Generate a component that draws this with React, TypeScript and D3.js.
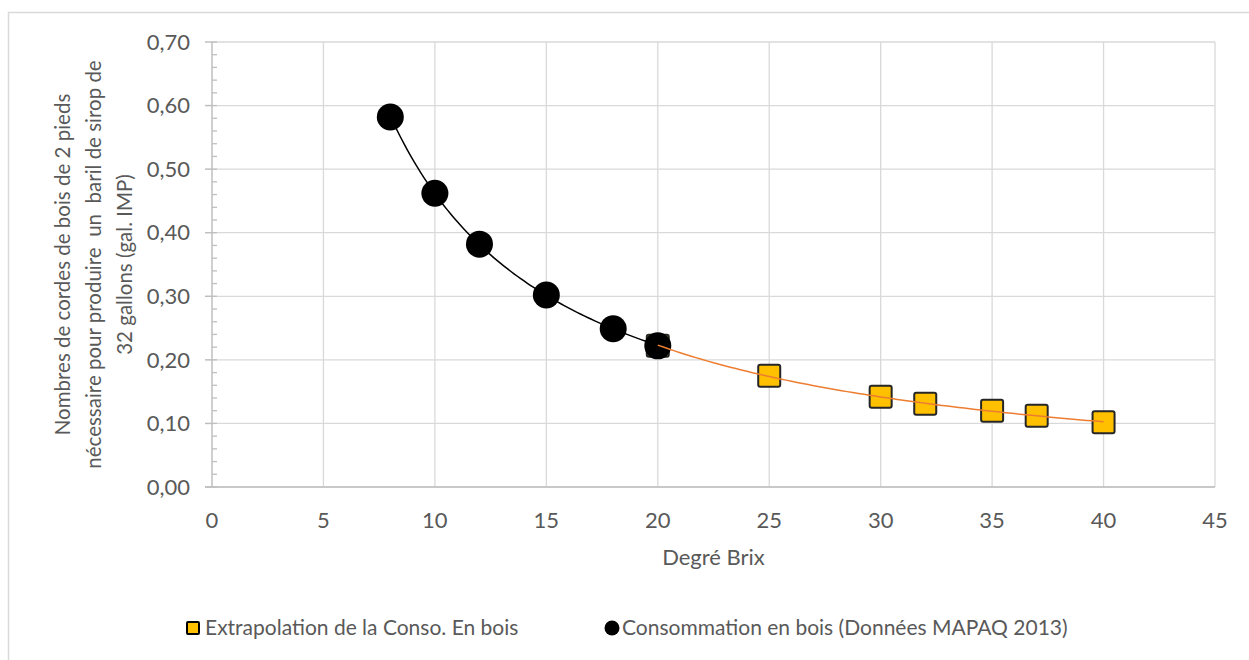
import * as d3 from 'd3';

// Données
const brixMesure = [8, 10, 12, 15, 18, 20];
const cordesMesure = [0.582, 0.462, 0.382, 0.302, 0.249, 0.222];

const brixExtrap = [20, 25, 30, 32, 35, 37, 40];
const cordesExtrap = [0.222, 0.175, 0.142, 0.131, 0.12, 0.112, 0.102];

const xTicks = [0, 5, 10, 15, 20, 25, 30, 35, 40, 45];
const yTicks = [0, 0.1, 0.2, 0.3, 0.4, 0.5, 0.6, 0.7];

const yTitleLines = [
  'Nombres de cordes de bois de 2 pieds',
  'nécessaire pour produire  un  baril de sirop de',
  '32 gallons (gal. IMP)',
];

const serieExtrap = 'Extrapolation de la Conso. En bois';
const serieMesure = 'Consommation en bois (Données MAPAQ 2013)';

const W = 1249;
const H = 660;
const margin = { top: 42, right: 34, bottom: 173, left: 212 };
const FONT = 'Lato, "Open Sans", sans-serif';
const TEXT = '#595959';
const FS = 22;

// courbe de tendance de type puissance (y = a * x^b), comme Excel
function powerTrend(xs: number[], ys: number[], n = 80) {
  const lx = xs.map(Math.log);
  const ly = ys.map(Math.log);
  const mx = d3.mean(lx)!;
  const my = d3.mean(ly)!;
  const b =
    d3.sum(lx, (v, i) => (v - mx) * (ly[i] - my)) / d3.sum(lx, (v) => (v - mx) ** 2);
  const a = Math.exp(my - b * mx);
  const [x0, x1] = d3.extent(xs) as [number, number];
  return d3.range(n + 1).map((i) => {
    const x = x0 + ((x1 - x0) * i) / n;
    return [x, a * Math.pow(x, b)] as [number, number];
  });
}

export default function App() {
  const x = d3.scaleLinear().domain([0, 45]).range([margin.left, W - margin.right]);
  const y = d3.scaleLinear().domain([0, 0.7]).range([H - margin.bottom, margin.top]);

  const line = d3
    .line<[number, number]>()
    .x((d) => x(d[0]))
    .y((d) => y(d[1]));

  const fmt = (v: number) => v.toFixed(2).replace('.', ',');
  const minorTicks = d3.range(0, 0.7001, 0.02);

  const plotMidY = (y(0) + y(0.7)) / 2;
  const plotMidX = (x(0) + x(45)) / 2;
  const sq = 22;

  return (
    <svg
      width={W}
      height={H}
      style={{ position: 'absolute', left: 0, top: 0, background: '#fff' }}
      fontFamily={FONT}
    >
      <rect x={8.5} y={12.5} width={W + 10} height={H + 10} fill="#fff" stroke="#d9d9d9" strokeWidth={1.5} />

      {/* grille */}
      {yTicks.map((t) => (
        <line key={'gy' + t} x1={x(0)} x2={x(45)} y1={y(t)} y2={y(t)} stroke="#d9d9d9" strokeWidth={1.3} />
      ))}
      {xTicks.slice(1).map((t) => (
        <line key={'gx' + t} x1={x(t)} x2={x(t)} y1={y(0)} y2={y(0.7)} stroke="#d9d9d9" strokeWidth={1.3} />
      ))}

      {/* axes */}
      <line x1={x(0) - 7} x2={x(45)} y1={y(0)} y2={y(0)} stroke="#bfbfbf" strokeWidth={1.5} />
      <line x1={x(0)} x2={x(0)} y1={y(0)} y2={y(0.7)} stroke="#bfbfbf" strokeWidth={1.5} />
      {yTicks.map((t) => (
        <line key={'ty' + t} x1={x(0) - 7} x2={x(0)} y1={y(t)} y2={y(t)} stroke="#bfbfbf" strokeWidth={1.5} />
      ))}
      {minorTicks.map((t) => (
        <line key={'my' + t} x1={x(0)} x2={x(0) + 5} y1={y(t)} y2={y(t)} stroke="#bfbfbf" strokeWidth={1.3} />
      ))}

      {yTicks.map((t) => (
        <text key={'ly' + t} x={x(0) - 22} y={y(t)} dy="0.35em" textAnchor="end" fontSize={FS} fill={TEXT}>
          {fmt(t)}
        </text>
      ))}
      {xTicks.map((t) => (
        <text key={'lx' + t} x={x(t)} y={y(0) + 41} textAnchor="middle" fontSize={FS} fill={TEXT}>
          {t}
        </text>
      ))}

      <text x={plotMidX} y={y(0) + 78} textAnchor="middle" fontSize={FS} fill={TEXT}>
        Degré Brix
      </text>

      <g transform={`translate(0,${plotMidY}) rotate(-90)`}>
        {yTitleLines.map((l, i) => (
          <text
            key={i}
            x={0}
            y={70 + i * 31}
            textAnchor="middle"
            fontSize={20.5}
            fill={TEXT}
            style={{ whiteSpace: 'pre' }}
          >
            {l}
          </text>
        ))}
      </g>

      {/* série extrapolée (carrés) */}
      {brixExtrap.map((b, i) => (
        <rect
          key={'s' + i}
          x={x(b) - sq / 2}
          y={y(cordesExtrap[i]) - sq / 2}
          width={sq}
          height={sq}
          rx={2}
          fill="#ffc000"
          stroke="#262626"
          strokeWidth={2}
        />
      ))}

      {/* série mesurée (cercles) */}
      {brixMesure.map((b, i) => (
        <circle key={'c' + i} cx={x(b)} cy={y(cordesMesure[i])} r={13.5} fill="#000" />
      ))}

      {/* courbes de tendance */}
      <path d={line(powerTrend(brixMesure, cordesMesure))!} fill="none" stroke="#000" strokeWidth={1.5} />
      <path d={line(powerTrend(brixExtrap, cordesExtrap))!} fill="none" stroke="#ed7d31" strokeWidth={1.5} />

      {/* légende */}
      <g transform="translate(0,628)">
        <rect x={187} y={-6} width={12} height={12} rx={1} fill="#ffc000" stroke="#000" strokeWidth={2} />
        <text x={205} y={0} dy="0.35em" fontSize={21} fill={TEXT}>
          {serieExtrap}
        </text>
        <circle cx={612} cy={0} r={7.5} fill="#000" />
        <text x={622} y={0} dy="0.35em" fontSize={21} fill={TEXT}>
          {serieMesure}
        </text>
      </g>
    </svg>
  );
}
